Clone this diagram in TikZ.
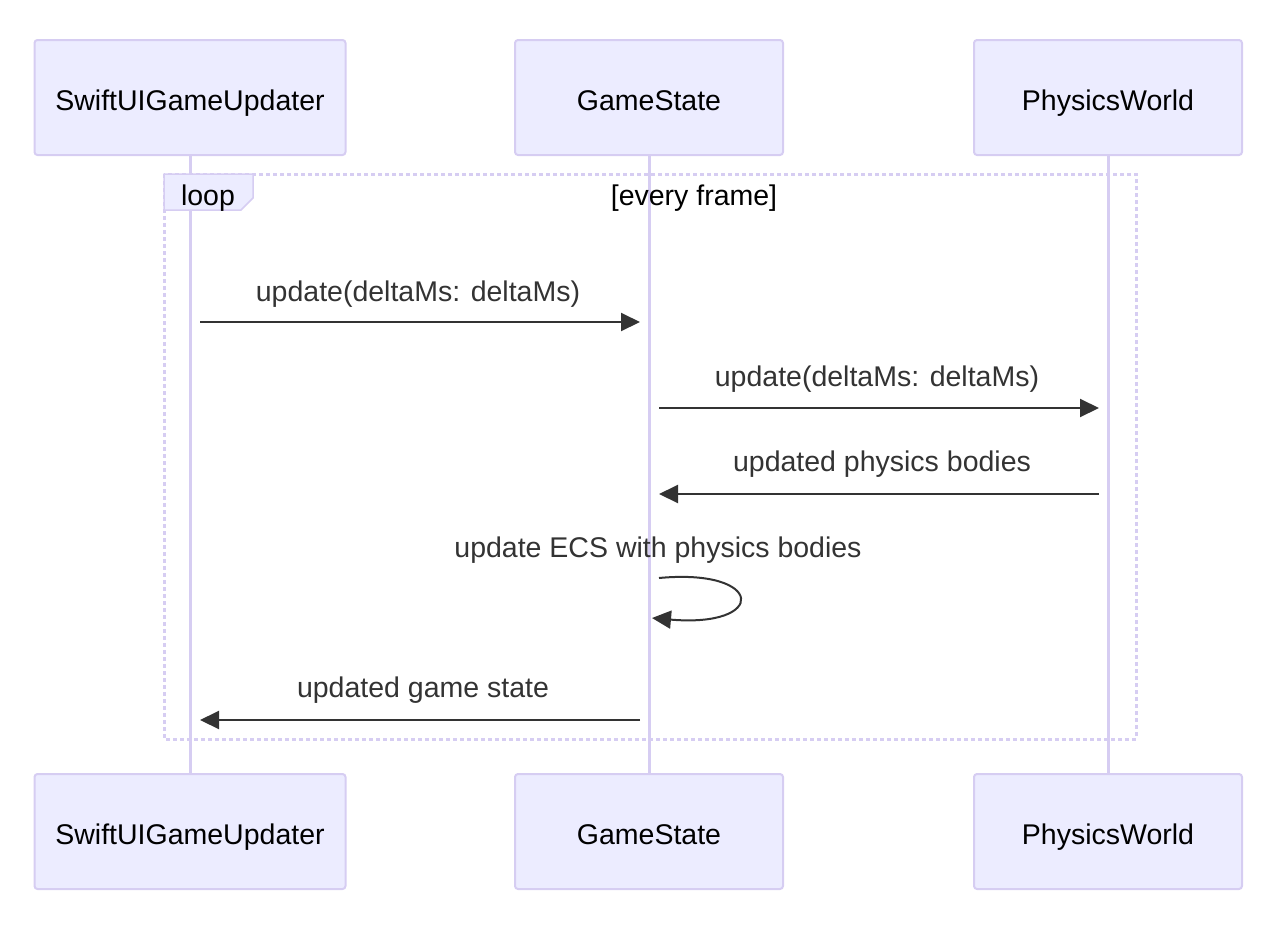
\documentclass[tikz,border=0pt]{standalone}
\usepackage{fontspec}
\setmainfont{Liberation Sans}
\usetikzlibrary{arrows.meta}
\definecolor{actfill}{HTML}{ECECFF}
\definecolor{actline}{HTML}{D6CDF2}
\definecolor{msgcol}{HTML}{333333}
\tikzset{
  actor/.style={draw=actline, line width=2pt, fill=actfill, rounded corners=3pt,
    minimum height=115pt, inner sep=0pt, text height=28pt, text depth=3pt,
    font=\fontsize{28.5}{34}\selectfont},
  lifeline/.style={draw=actline, line width=3pt},
  msg/.style={draw=msgcol, line width=2pt, -{Triangle[length=19pt,width=18pt]}},
  msglabel/.style={anchor=base, text=msgcol, font=\fontsize{28.5}{34}\selectfont, inner sep=0pt},
  loopbox/.style={draw=actline, line width=3pt, dash pattern=on 4pt off 3pt},
  looptab/.style={draw=actline, line width=1.5pt, fill=actfill},
}
\begin{document}
\begin{tikzpicture}[x=1pt,y=-1pt]
\useasboundingbox (0,0) rectangle (1288,940);
% actors
\node[actor, minimum width=311pt] (a1) at (190,97.5) {SwiftUIGameUpdater};
\node[actor, minimum width=268pt] (b1) at (649,97.5) {GameState};
\node[actor, minimum width=268pt] (c1) at (1108,97.5) {PhysicsWorld};
\node[actor, minimum width=311pt] (a2) at (190,831.5) {SwiftUIGameUpdater};
\node[actor, minimum width=268pt] (b2) at (649,831.5) {GameState};
\node[actor, minimum width=268pt] (c2) at (1108,831.5) {PhysicsWorld};
% lifelines
\draw[lifeline] (a1.south) -- (a2.north);
\draw[lifeline] (b1.south) -- (b2.north);
\draw[lifeline] (c1.south) -- (c2.north);
% loop frame
\draw[loopbox] (164,174) rectangle (1136,739);
\draw[looptab] (164,174) -- (253,174) -- (253,198) -- (241,210) -- (164,210) -- cycle;
\node[msglabel, text=black] (looplbl) at (208,205) {loop};
\node[msglabel, text=black] (cond) at (694,205) {[every frame]};
% message coordinates
\coordinate (m1s) at (200,322); \coordinate (m1e) at (640,322);
\coordinate (m2s) at (659,408); \coordinate (m2e) at (1099,408);
\coordinate (m3s) at (1099,494); \coordinate (m3e) at (659,494);
\coordinate (m4s) at (659,578); \coordinate (m4e) at (652,618);
\coordinate (m5s) at (640,720); \coordinate (m5e) at (200,720);
% messages
\node[msglabel] (l1) at (418,301) {update(deltaMs: deltaMs)};
\draw[msg] (m1s) -- (m1e);
\node[msglabel] (l2) at (877,386) {update(deltaMs: deltaMs)};
\draw[msg] (m2s) -- (m2e);
\node[msglabel] (l3) at (882,471) {updated physics bodies};
\draw[msg] (m3s) -- (m3e);
\node[msglabel] (l4) at (658,557) {update ECS with physics bodies};
\draw[msg] (m4s) .. controls (765,568) and (768,628) .. (m4e);
\node[msglabel] (l5) at (423,697) {updated game state};
\draw[msg] (m5s) -- (m5e);
\end{tikzpicture}
\end{document}
